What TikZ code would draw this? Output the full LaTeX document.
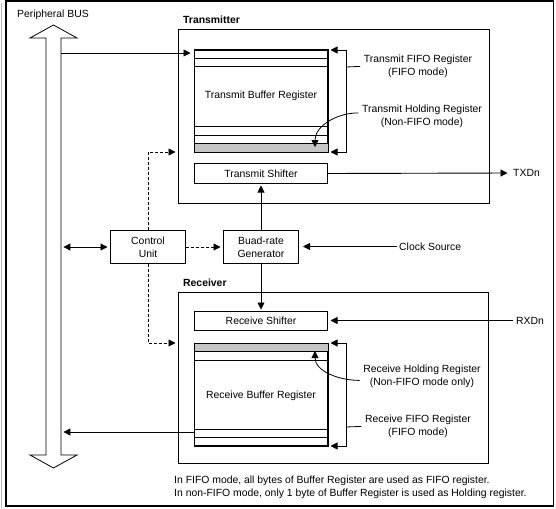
\documentclass[tikz,border=0pt]{standalone}
\usepackage{fontspec}
\setmainfont{Liberation Sans}
\usetikzlibrary{arrows.meta,calc}
\begin{document}
\begin{tikzpicture}[x=1pt,y=-1pt,
  font=\fontsize{10.4}{12.7}\selectfont,
  box/.style={draw, line width=1pt, inner sep=0pt, anchor=north west},
  arr/.style={line width=0.9pt, -{Triangle[length=7pt,width=7pt]}, shorten >=2.5pt},
  darr/.style={arr, dash pattern=on 3pt off 2pt},
  biarr/.style={line width=0.9pt, {Triangle[length=7pt,width=7pt]}-{Triangle[length=7pt,width=7pt]}, shorten >=2.5pt, shorten <=2pt},
  lbl/.style={align=center, inner xsep=3.5pt, inner ysep=1pt},
  thin/.style={line width=0.8pt},
  shade/.style={fill=gray!45, draw=black, line width=0.8pt},
  title/.style={font=\fontsize{10.4}{12.7}\selectfont\bfseries, anchor=west, inner sep=2pt}
]
\useasboundingbox (0,0) rectangle (556,508);
% outer frame
\draw[gray!55, line width=0.8pt] (1,3) -- (1,508);
\draw[line width=1.8pt] (6,1) rectangle (553.5,506);

% peripheral bus block arrow
\draw[line width=0.8pt, fill=white] (46,455) -- (30,455) -- (53.5,468) -- (77,455) -- (61,455) -- (61,38) -- (77,38) -- (53.5,25) -- (30,38) -- (46,38) -- cycle;
\node[inner sep=0pt, minimum width=15pt, minimum height=417pt, anchor=north west] (bus) at (46,38) {};
\node[inner sep=1pt] (bustxt) at (53,15) {Peripheral BUS};

% transmitter
\node[box, minimum width=311pt, minimum height=174pt] (tx) at (178,29) {};
\node[title] (txtitle) at (181,20) {Transmitter};
\node[box, minimum width=133pt, minimum height=101pt] (tbuf) at (194,50) {};
\draw[thin] ($(tbuf.north west)+(0,8.3)$) -- ($(tbuf.north east)+(0,8.3)$);
\draw[thin] ($(tbuf.north west)+(0,16.7)$) -- ($(tbuf.north east)+(0,16.7)$);
\draw[thin] ($(tbuf.south west)+(0,-25.7)$) -- ($(tbuf.south east)+(0,-25.7)$);
\draw[thin] ($(tbuf.south west)+(0,-17)$) -- ($(tbuf.south east)+(0,-17)$);
\draw[shade] ($(tbuf.south west)+(0,-8.3)$) rectangle (tbuf.south east);
\draw[line width=1pt] (tbuf.north west) rectangle (tbuf.south east);
\node (tbuftxt) at ($(tbuf.north)+(0,46)$) {Transmit Buffer Register};
\node[box, minimum width=133pt, minimum height=20pt] (tshift) at (194,163) {};
\node (tshifttxt) at (tshift.center) {Transmit Shifter};

% control and baud
\node[box, minimum width=75pt, minimum height=33pt, align=center] (cu) at (110,230) {Control\\Unit};
\node[box, minimum width=75pt, minimum height=33pt, align=center] (baud) at (223,230) {Buad-rate\\Generator};

% receiver
\node[box, minimum width=310pt, minimum height=171pt] (rx) at (178,292) {};
\node[title] (rxtitle) at (181,283) {Receiver};
\node[box, minimum width=133pt, minimum height=19pt] (rshift) at (194,311) {};
\node (rshifttxt) at (rshift.center) {Receive Shifter};
\node[box, minimum width=133pt, minimum height=102pt] (rbuf) at (194,343) {};
\draw[shade] (rbuf.north west) rectangle ($(rbuf.north east)+(0,8.7)$);
\draw[thin] ($(rbuf.north west)+(0,17.7)$) -- ($(rbuf.north east)+(0,17.7)$);
\draw[thin] ($(rbuf.south west)+(0,-16.7)$) -- ($(rbuf.south east)+(0,-16.7)$);
\draw[thin] ($(rbuf.south west)+(0,-8.3)$) -- ($(rbuf.south east)+(0,-8.3)$);
\draw[line width=1pt] (rbuf.north west) rectangle (rbuf.south east);
\node (rbuftxt) at ($(rbuf.north)+(0,53)$) {Receive Buffer Register};

% labels
\node[lbl] (tfifo) at (418,66.4) {Transmit FIFO Register\\(FIFO mode)};
\node[lbl] (thold) at (422,116.4) {Transmit Holding Register\\(Non-FIFO mode)};
\node[lbl] (rhold) at (422,376.4) {Receive Holding Register\\(Non-FIFO mode only)};
\node[lbl] (rfifo) at (418,426.4) {Receive FIFO Register\\(FIFO mode)};
\node[anchor=west, inner sep=3pt] (txd) at (510,173) {TXDn};
\node[anchor=west, inner sep=3pt] (rxd) at (513,320.5) {RXDn};
\node[anchor=west, inner sep=2pt] (clk) at (397,246.5) {Clock Source};
\node[anchor=west, align=left, inner sep=2pt] (note) at (172,487.5) {In FIFO mode, all bytes of Buffer Register are used as FIFO register.\\In non-FIFO mode, only 1 byte of Buffer Register is used as Holding register.};

% connectors
\coordinate (t1) at ($(tbuf.north west)+(0,3)$);
\draw[arr, shorten >=3.5pt] (t1 -| bus.east) -- (t1);
\draw[biarr] (cu.west -| bus.east) -- (cu.west);
\coordinate (r1) at ($(rbuf.south west)+(0,-14)$);
\draw[arr, shorten >=2pt] (r1) -- (r1 -| bus.east);

\draw[darr] (cu.north) |- (tbuf.south -| tx.west);
\draw[darr] (cu.south) |- (rbuf.north -| rx.west);
\draw[darr] (cu.east) -- (baud.west);
\draw[arr, shorten >=1.5pt] (baud.north) -- (tshift.south -| baud.north);
\draw[arr, shorten >=1.5pt] (baud.south) -- (rshift.north -| baud.south);
\draw[arr, shorten >=4pt] (clk.west) -- (clk.west -| baud.east);
\draw[arr] (tshift.east) -- (txd.west);
\draw[arr] (rxd.west) -- (rxd.west -| rshift.east);

\coordinate (tbr) at (346,67);
\draw[thin] (tfifo.west) -- (tbr);
\draw[arr] (tbr) |- (tbuf.north east);
\draw[arr] (tbr) |- (tbuf.south east);
\coordinate (rbr) at (346,427);
\draw[thin] (rfifo.west) -- (rbr);
\draw[arr] (rbr) |- (rbuf.north east);
\draw[arr] (rbr) |- (rbuf.south east);

\draw[arr, line width=0.8pt, shorten >=1pt] ($(thold.west)+(0,-3.5)$) to[out=180, in=90] (315,148);
\draw[arr, line width=0.8pt, shorten >=1pt] ($(rhold.west)+(0,4)$) to[out=180, in=-90] (315,350);
\end{tikzpicture}
\end{document}
